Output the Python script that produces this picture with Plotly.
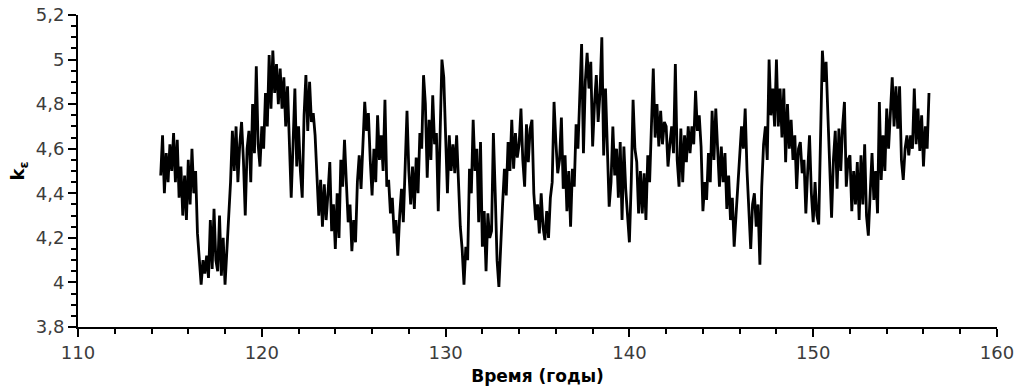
import numpy as np
import plotly.graph_objects as go

# Sampling of the series: start year and step (years)
start_year = 114.5
step_years = 0.1

# k_eps values, one row per year
k_eps = [
    4.48, 4.66, 4.40, 4.58, 4.45,                                   # 114.5-114.9
    4.62, 4.50, 4.67, 4.45, 4.64, 4.38, 4.52, 4.30, 4.48, 4.28,     # 115
    4.55, 4.35, 4.60, 4.40, 4.50, 4.22, 4.12, 3.99, 4.10, 4.04,     # 116
    4.12, 4.02, 4.28, 4.06, 4.33, 4.10, 4.05, 4.30, 4.03, 4.20,     # 117
    3.99, 4.15, 4.30, 4.45, 4.68, 4.50, 4.70, 4.45, 4.62, 4.72,     # 118
    4.55, 4.30, 4.60, 4.68, 4.45, 4.80, 4.58, 4.97, 4.62, 4.52,     # 119
    4.70, 4.60, 4.85, 4.70, 5.02, 4.78, 5.04, 4.85, 4.98, 4.80,     # 120
    4.96, 4.78, 4.92, 4.70, 4.88, 4.60, 4.38, 4.62, 4.87, 4.52,     # 121
    4.70, 4.50, 4.38, 4.75, 4.93, 4.68, 4.90, 4.72, 4.76, 4.66,     # 122
    4.50, 4.30, 4.46, 4.25, 4.44, 4.28, 4.40, 4.54, 4.23, 4.35,     # 123
    4.15, 4.40, 4.20, 4.55, 4.43, 4.64, 4.45, 4.27, 4.35, 4.14,     # 124
    4.28, 4.18, 4.45, 4.57, 4.42, 4.65, 4.81, 4.68, 4.76, 4.55,     # 125
    4.39, 4.60, 4.45, 4.75, 4.55, 4.66, 4.50, 4.82, 4.43, 4.46,     # 126
    4.31, 4.38, 4.22, 4.28, 4.12, 4.30, 4.42, 4.27, 4.51, 4.77,     # 127
    4.50, 4.35, 4.52, 4.33, 4.56, 4.40, 4.67, 4.60, 4.93, 4.80,     # 128
    4.47, 4.73, 4.55, 4.84, 4.62, 4.67, 4.32, 4.66, 5.00, 4.92,     # 129
    4.70, 4.40, 4.66, 4.50, 4.62, 4.49, 4.66, 4.46, 4.25, 4.15,     # 130
    3.99, 4.16, 4.10, 4.51, 4.40, 4.73, 4.50, 4.60, 4.27, 4.63,     # 131
    4.16, 4.32, 4.05, 4.31, 4.20, 4.23, 4.67, 4.40, 4.10, 3.98,     # 132
    4.20, 4.35, 4.51, 4.39, 4.63, 4.50, 4.73, 4.51, 4.67, 4.56,     # 133
    4.62, 4.78, 4.55, 4.43, 4.71, 4.54, 4.69, 4.73, 4.40, 4.28,     # 134
    4.35, 4.22, 4.40, 4.25, 4.19, 4.32, 4.20, 4.38, 4.45, 4.81,     # 135
    4.63, 4.49, 4.55, 4.74, 4.42, 4.57, 4.32, 4.50, 4.25, 4.51,     # 136
    4.43, 4.71, 4.60, 4.82, 5.07, 4.58, 4.90, 5.03, 4.87, 4.99,     # 137
    4.61, 4.80, 4.93, 4.72, 4.85, 5.10, 4.57, 4.87, 4.60, 4.34,     # 138
    4.45, 4.70, 4.48, 4.60, 4.38, 4.63, 4.28, 4.61, 4.42, 4.30,     # 139
    4.18, 4.45, 4.82, 4.60, 4.54, 4.31, 4.50, 4.31, 4.49, 4.28,     # 140
    4.57, 4.45, 4.70, 4.96, 4.65, 4.80, 4.61, 4.77, 4.62, 4.72,     # 141
    4.70, 4.52, 4.62, 4.70, 4.58, 4.98, 4.55, 4.43, 4.69, 4.45,     # 142
    4.66, 4.54, 4.70, 4.58, 4.70, 4.62, 4.86, 4.68, 4.75, 4.61,     # 143
    4.32, 4.45, 4.37, 4.58, 4.45, 4.77, 4.55, 4.78, 4.60, 4.43,     # 144
    4.61, 4.45, 4.58, 4.33, 4.48, 4.28, 4.38, 4.16, 4.30, 4.45,     # 145
    4.55, 4.70, 4.60, 4.78, 4.50, 4.33, 4.15, 4.35, 4.40, 4.25,     # 146
    4.35, 4.08, 4.43, 4.62, 4.70, 4.55, 5.00, 4.75, 4.87, 4.70,     # 147
    5.00, 4.70, 4.87, 4.65, 4.87, 4.54, 4.80, 4.60, 4.73, 4.55,     # 148
    4.66, 4.42, 4.60, 4.63, 4.49, 4.55, 4.31, 4.50, 4.66, 4.40,     # 149
    4.27, 4.45, 4.30, 4.26, 4.70, 5.04, 4.90, 4.99, 4.75, 4.55,     # 150
    4.29, 4.55, 4.68, 4.42, 4.69, 4.50, 4.70, 4.81, 4.43, 4.55,     # 151
    4.57, 4.32, 4.50, 4.35, 4.54, 4.28, 4.57, 4.35, 4.62, 4.30,     # 152
    4.21, 4.40, 4.58, 4.37, 4.50, 4.31, 4.81, 4.46, 4.66, 4.50,     # 153
    4.78, 4.60, 4.75, 4.92, 4.70, 4.88, 4.69, 4.88, 4.55, 4.46,     # 154
    4.60, 4.66, 4.57, 4.66, 4.60, 4.87, 4.62, 4.78, 4.59, 4.75,     # 155
    4.52, 4.70, 4.60, 4.85,                                         # 156.0-156.3
]

years = np.round(start_year + step_years * np.arange(len(k_eps)), 2)

x_ticks = [110, 120, 130, 140, 150, 160]
y_ticks = [3.8, 4.0, 4.2, 4.4, 4.6, 4.8, 5.0, 5.2]
y_tick_text = ["3,8", "4", "4,2", "4,4", "4,6", "4,8", "5", "5,2"]

fig = go.Figure()
fig.add_trace(go.Scatter(
    x=years, y=k_eps, mode="lines",
    line=dict(color="black", width=2.8),
    showlegend=False,
))

tick_font = dict(family="DejaVu Sans", size=18, color="#3c3c3c")
axis_common = dict(
    showline=True, linecolor="black", linewidth=2,
    ticks="outside", tickcolor="black", tickwidth=2, ticklen=8,
    showgrid=False, zeroline=False, tickfont=tick_font,
)

fig.update_xaxes(
    range=[110, 160], tickvals=x_ticks,
    minor=dict(dtick=2, ticks="outside", ticklen=5, tickwidth=2, tickcolor="black"),
    title=dict(text="<b>Время (годы)</b>", standoff=9,
               font=dict(family="DejaVu Sans", size=17, color="black")),
    **axis_common,
)
fig.update_yaxes(
    range=[3.8, 5.2], tickvals=y_ticks, ticktext=y_tick_text,
    minor=dict(dtick=0.05, ticks="outside", ticklen=5, tickwidth=2, tickcolor="black"),
    title=dict(text="<b>k<sub>ε</sub></b>", standoff=6,
               font=dict(family="DejaVu Sans", size=18, color="black")),
    **axis_common,
)

fig.update_layout(
    width=1019, height=390,
    margin=dict(l=78, r=22, t=15, b=63, autoexpand=False),
    plot_bgcolor="white", paper_bgcolor="white",
)

fig.write_html("out.html")
